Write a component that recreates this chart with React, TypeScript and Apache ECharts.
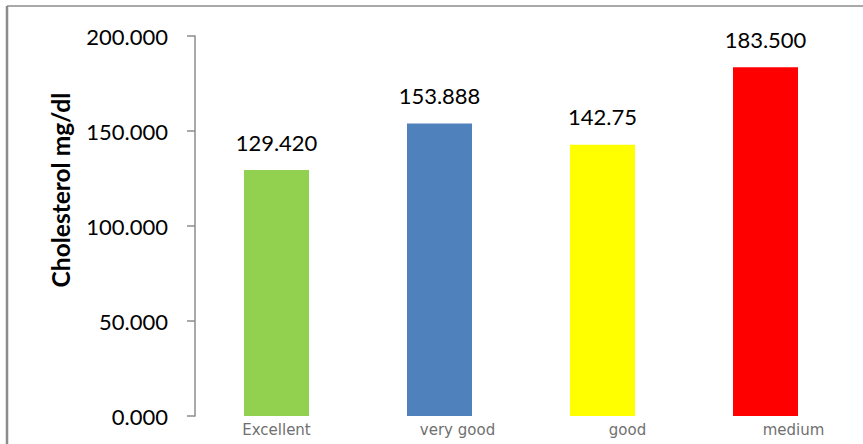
import React, { useEffect, useRef } from "react";
import * as echarts from "echarts";

const categories = ["Excellent", "very good", "good", "medium"];
const values = [129.42, 153.888, 142.75, 183.5];
const valueLabels = ["129.420", "153.888", "142.75", "183.500"];
const barColors = ["#92D050", "#4F81BD", "#FFFF00", "#FF0000"];
const labelPadLeft = [0, 36, 50, 56];
const yTicks = { min: 0, max: 200, interval: 50 };
const yTitle = "Cholesterol mg/dl";

export default function App() {
  const ref = useRef<HTMLDivElement>(null);
  useEffect(() => {
    if (!ref.current) return;
    const chart = echarts.init(ref.current, undefined, { renderer: "svg" });
    chart.setOption({
      animation: false,
      backgroundColor: "#ffffff",
      grid: { left: 195, right: 16, top: 36, bottom: 28, containLabel: false },
      xAxis: {
        type: "category",
        data: categories.map((c, i) => ({
          value: c,
          textStyle: { padding: [0, 0, 0, labelPadLeft[i]] },
        })),
        axisLine: { show: false },
        axisTick: { show: false },
        axisLabel: {
          color: "#707070",
          fontFamily: "DejaVu Sans",
          fontSize: 15,
          margin: 6,
        },
      },
      yAxis: {
        type: "value",
        min: yTicks.min,
        max: yTicks.max,
        interval: yTicks.interval,
        splitLine: { show: false },
        axisLine: { show: true, lineStyle: { color: "#8c8c8c", width: 1.5 } },
        axisTick: { show: true, length: 8, lineStyle: { color: "#8c8c8c", width: 1.5 } },
        axisLabel: {
          color: "#000",
          fontFamily: "Lato",
          fontSize: 22,
          margin: 27,
          formatter: (v: number) => v.toFixed(3),
        },
      },
      series: [
        {
          type: "bar",
          barWidth: 65,
          data: values.map((v, i) => ({
            value: v,
            itemStyle: { color: barColors[i] },
          })),
          label: {
            show: true,
            position: "top",
            distance: 17,
            color: "#000",
            fontFamily: "Lato",
            fontSize: 22,
            formatter: (p: any) => valueLabels[p.dataIndex],
          },
        },
      ],
      graphic: [
        {
          type: "line",
          shape: { x1: 7, y1: 6, x2: 863, y2: 6 },
          style: { stroke: "#8c8c8c", lineWidth: 1.5 },
        },
        {
          type: "line",
          shape: { x1: 7, y1: 6, x2: 7, y2: 444 },
          style: { stroke: "#8c8c8c", lineWidth: 2.5 },
        },
        {
          type: "text",
          x: 60,
          y: 190,
          rotation: Math.PI / 2,
          style: {
            text: yTitle,
            fontFamily: "Lato",
            fontWeight: "bold",
            fontSize: 24.5,
            fill: "#000",
            align: "center",
            verticalAlign: "middle",
          },
        },
      ],
    });
    return () => chart.dispose();
  }, []);
  return (
    <div
      ref={ref}
      style={{ position: "fixed", left: 0, top: 0, width: 863, height: 444 }}
    />
  );
}
